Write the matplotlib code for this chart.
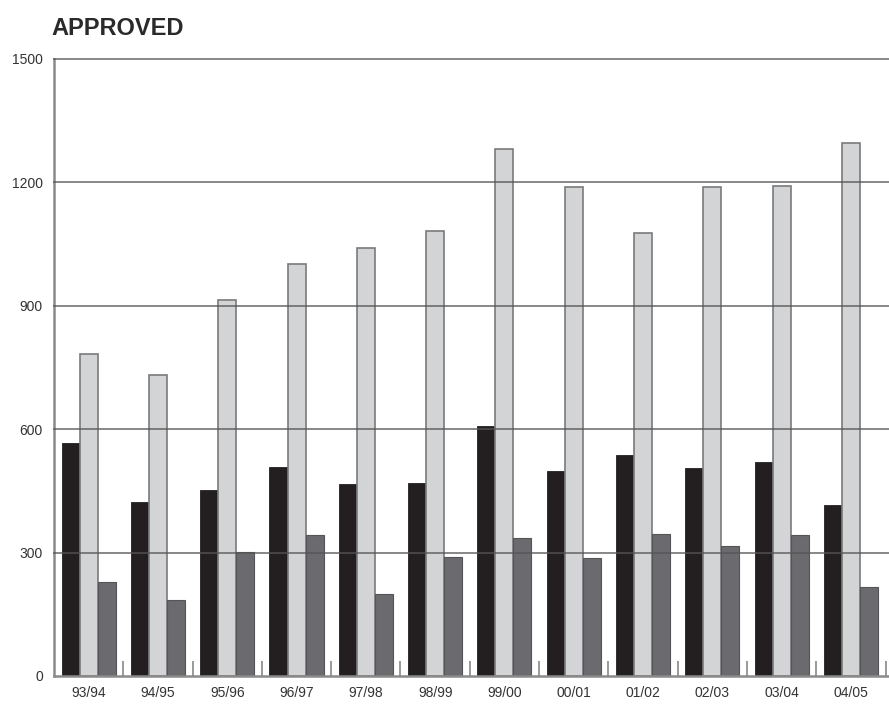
import matplotlib.pyplot as plt
import numpy as np
from matplotlib import font_manager

years = ["93/94", "94/95", "95/96", "96/97", "97/98", "98/99",
         "99/00", "00/01", "01/02", "02/03", "03/04", "04/05"]
black_vals = [566, 423, 452, 508, 467, 469, 608, 498, 537, 506, 520, 416]
light_vals = [783, 732, 914, 1001, 1040, 1082, 1281, 1188, 1076, 1188, 1190, 1295]
dark_vals = [229, 185, 301, 342, 199, 290, 335, 286, 345, 316, 342, 217]
y_ticks = [0, 300, 600, 900, 1200, 1500]

names = {f.name for f in font_manager.fontManager.ttflist}
narrow = "Liberation Sans Narrow" if "Liberation Sans Narrow" in names else "Liberation Sans"
plt.rcParams["font.family"] = [narrow, "DejaVu Sans"]

fig = plt.figure(figsize=(8.89, 7.06), dpi=100)
ax = fig.add_axes([0.0607, 0.0425, 0.9393, 0.874])

x = np.arange(len(years)) + 0.5
w = 0.26
ax.bar(x - w, black_vals, w, color="#231f20", edgecolor="#231f20", lw=0.6, zorder=2)
ax.bar(x, light_vals, w, color="#d3d4d6", edgecolor="#7a7a7c", lw=1.2, zorder=2)
ax.bar(x + w, dark_vals, w, color="#6b6b6f", edgecolor="#555558", lw=0.8, zorder=2)

ax.set_xlim(0, 835 / 69.3)
ax.set_ylim(0, 1500)
for y in y_ticks[1:]:
    ax.axhline(y, color="#555555", lw=1.4, alpha=0.7, zorder=3, clip_on=False)

ax.set_yticks(y_ticks)
ax.set_yticklabels([str(v) for v in y_ticks], fontsize=10, color="#333333")
ax.tick_params(axis="y", length=0, pad=8)

ax.set_xticks(np.arange(1, len(years) + 1))
ax.set_xticklabels([])
ax.set_xticks(x, minor=True)
ax.set_xticklabels(years, minor=True, fontsize=10, color="#333333")
ax.tick_params(axis="x", which="major", direction="in", length=11, width=1.2, color="#888888")
ax.tick_params(axis="x", which="minor", length=0, pad=7)

for side in ["top", "right"]:
    ax.spines[side].set_visible(False)
for side in ["left", "bottom"]:
    ax.spines[side].set_color("#8a8a8a")
    ax.spines[side].set_linewidth(1.8)

fig.text(0.058, 0.96, "APPROVED", fontsize=17, fontweight="bold", color="#2a2a2a",
         va="center", ha="left")

fig.savefig("out.png", dpi=100)
